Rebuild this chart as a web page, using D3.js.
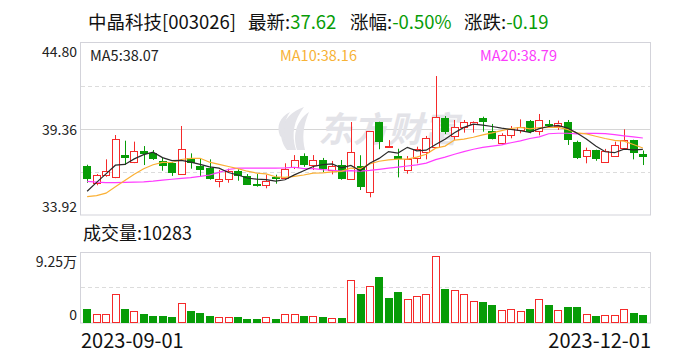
<!DOCTYPE html>
<html>
<head>
<meta charset="utf-8">
<script src="https://cdn.jsdelivr.net/npm/d3@7"></script>
<style>
  body { margin: 0; background: #fff; }
  svg { display: block; font-family: "Noto Sans CJK SC", "Noto Sans", sans-serif; }
</style>
</head>
<body>
<script>
// daily K-line, 2023-09-01 .. 2023-12-01 (60 trading days)
var opens  = [37.02,35.93,36.43,36.30,37.71,37.25,37.97,37.82,37.34,37.19,36.53,37.51,37.02,36.89,36.05,36.22,36.70,36.39,35.86,35.80,
              36.30,36.24,36.94,37.65,37.06,37.40,36.75,37.06,36.18,37.02,35.36,39.80,38.30,37.65,36.77,37.51,37.89,38.20,40.04,38.96,
              39.47,39.72,40.04,39.23,38.45,39.02,39.30,39.87,39.21,39.70,39.55,39.78,38.54,37.65,38.03,37.25,37.63,38.14,38.66,37.80];
var highs  = [37.10,36.51,37.44,38.98,38.62,38.56,38.28,38.03,37.57,37.27,39.55,37.82,37.48,37.44,36.77,36.85,36.81,36.51,36.51,36.47,
              36.47,37.19,37.71,37.82,37.71,37.53,37.34,37.40,39.80,37.70,39.23,39.82,38.66,38.11,37.65,38.24,38.92,42.71,40.18,39.93,
              39.93,39.84,40.14,39.68,39.09,39.55,39.97,39.93,40.31,39.93,39.89,39.93,38.62,38.18,38.05,38.10,38.56,39.34,38.68,38.00];
var lows   = [35.96,35.80,36.34,36.25,37.08,37.20,37.08,37.40,36.72,36.39,36.50,36.85,36.39,36.15,35.67,35.96,36.09,35.82,35.71,35.61,
              35.90,36.20,36.83,36.97,36.77,36.64,36.49,36.15,36.15,35.50,35.04,38.08,38.16,36.30,36.53,37.19,37.44,38.18,39.04,38.66,
              39.13,39.13,39.19,38.70,38.43,38.77,39.09,39.09,38.96,39.47,39.30,38.35,37.46,37.19,37.35,37.23,37.61,38.12,37.44,37.08];
var closes = [36.22,36.43,36.70,38.71,37.54,37.97,37.80,37.44,37.02,36.56,38.08,37.19,36.77,36.18,36.20,36.70,36.39,35.84,35.80,36.05,
              36.24,36.83,37.40,37.08,37.40,36.85,37.00,36.18,37.89,35.67,39.21,38.56,38.30,37.48,37.44,38.10,38.77,40.10,39.13,39.51,
              39.78,39.82,39.76,38.71,38.96,39.38,39.47,39.17,39.91,39.66,39.76,38.62,37.54,38.03,37.44,37.97,38.33,38.66,37.81,37.62];
var volumes = [18200,11300,11300,37800,18200,15600,11700,9100,9100,7800,26000,16000,13000,9100,7400,7400,7800,5200,5200,7400,
               5200,11300,11300,9100,8800,7800,6100,6500,55600,37800,47800,59900,32600,40400,30900,34800,37400,87300,44300,42600,
               37400,28700,27400,23500,16900,17800,15600,18200,30900,23500,16900,20800,20800,11300,9100,10000,10000,17800,13000,10283];

// moving averages as shown on the chart
var ma5  = [35.42,35.98,36.52,37.07,37.12,37.47,37.74,37.89,37.55,37.36,37.38,37.26,37.12,36.96,36.88,36.61,36.45,36.26,36.19,36.16,
            36.06,36.15,36.46,36.72,36.99,37.11,37.15,36.90,37.06,36.72,37.19,37.50,37.93,37.84,38.20,37.98,38.02,38.38,38.71,39.12,
            39.46,39.67,39.60,39.52,39.41,39.33,39.26,39.14,39.38,39.52,39.59,39.42,39.10,38.72,38.28,37.92,37.86,38.09,38.04,38.07];
var ma10 = [35.08,35.15,35.30,35.70,36.10,36.50,36.85,37.10,37.25,37.24,37.43,37.50,37.51,37.26,37.12,36.99,36.85,36.69,36.57,36.52,
            36.34,36.30,36.36,36.45,36.57,36.59,36.65,36.68,36.89,36.85,37.15,37.32,37.41,37.45,37.46,37.58,37.76,38.15,38.28,38.66,
            38.72,38.84,38.99,39.11,39.26,39.39,39.46,39.37,39.45,39.46,39.46,39.34,39.12,39.05,38.90,38.76,38.64,38.59,38.38,38.16];
var ma20 = [36.05,36.00,35.97,35.97,35.98,36.00,36.02,36.06,36.12,36.18,36.24,36.29,36.36,36.45,36.62,36.80,36.88,36.89,36.88,36.88,
            36.88,36.90,36.94,36.85,36.85,36.79,36.75,36.69,36.73,36.69,36.74,36.81,36.89,36.95,37.02,37.09,37.20,37.42,37.58,37.76,
            37.93,38.08,38.20,38.28,38.36,38.49,38.61,38.76,38.86,39.06,39.09,39.09,39.05,39.08,39.08,39.07,39.00,38.93,38.86,38.79];

var priceTicks = [44.80, 39.36, 33.92];
var priceDash = [42.08, 36.64];
var volMax = 92500;
var dateLabels = ["2023-09-01", "2023-12-01"];

var RED = "#f52a2a", GREEN = "#079c07";

var svg = d3.select("body").append("svg")
  .attr("width", 688)
  .attr("height", 360);

var idx = closes.map(function(d, i) { return i; });

var x = d3.scaleBand().domain(idx).range([81.5, 648.5]).padding(0.2);
var y = d3.scaleLinear().domain([33.92, 44.80]).range([215, 43]);
var yv = d3.scaleLinear().domain([0, volMax]).range([323, 252]);
var bw = Math.round(x.bandwidth());
function cx(i) { return Math.round(x(i) + x.bandwidth() / 2) + 0.5; }
function left(i) { return Math.round(x(i)); }

// ---- title
var title = svg.append("g").style("font-size", "18.5px").attr("fill", "#111");
title.append("text").attr("x", 88).attr("y", 29).text("中晶科技[003026]");
var t1 = title.append("text").attr("x", 248).attr("y", 29);
t1.append("tspan").text("最新:");
t1.append("tspan").attr("fill", GREEN).text("37.62");
var t2 = title.append("text").attr("x", 350).attr("y", 29);
t2.append("tspan").text("涨幅:");
t2.append("tspan").attr("fill", GREEN).text("-0.50%");
var t3 = title.append("text").attr("x", 464).attr("y", 29);
t3.append("tspan").text("涨跌:");
t3.append("tspan").attr("fill", GREEN).text("-0.19");

// ---- price panel frame + grid
svg.append("rect").attr("x", 80.5).attr("y", 42.5).attr("width", 570).attr("height", 172.5)
  .attr("fill", "none").attr("stroke", "#d3d3da");
svg.append("line").attr("x1", 81).attr("x2", 650).attr("y1", y(39.36) + 0.5).attr("y2", y(39.36) + 0.5)
  .attr("stroke", "#d6d6d6");
svg.selectAll(".pdash").data(priceDash).enter().append("line")
  .attr("x1", 81).attr("x2", 650)
  .attr("y1", function(d) { return Math.round(y(d)) + 0.5; })
  .attr("y2", function(d) { return Math.round(y(d)) + 0.5; })
  .attr("stroke", "#dcdcdc").attr("stroke-dasharray", "4,3");

svg.selectAll(".ptick").data(priceTicks).enter().append("text")
  .attr("x", 77)
  .attr("y", function(d, i) { return [57, 134.5, 211.5][i]; })
  .attr("text-anchor", "end")
  .style("font-size", "14px").attr("fill", "#222")
  .text(function(d) { return d.toFixed(2); });

// watermark
var wm = svg.append("g").attr("fill", "#e3e3e8");
wm.append("path").attr("d", "M287,150 C276,136 280,116 304,107 C294,120 291,134 296,150 Z");
wm.append("path").attr("d", "M297,150 C292,134 297,120 309,112 C303,126 302,138 305,150 Z");
wm.append("path").attr("d", "M280,136 C276,126 280,117 290,112 C284,121 283,129 285,140 Z");
wm.append("text").attr("x", 318).attr("y", 142)
  .style("font-size", "35px").style("font-weight", "bold").style("font-style", "italic")
  .text("东方财富");

// MA legends
var leg = svg.append("g").style("font-size", "14.5px");
leg.append("text").attr("x", 90).attr("y", 61).attr("fill", "#222").text("MA5:" + ma5[59].toFixed(2));
leg.append("text").attr("x", 280).attr("y", 61).attr("fill", "#f7b236").text("MA10:" + ma10[59].toFixed(2));
leg.append("text").attr("x", 480).attr("y", 61).attr("fill", "#fb3cfb").text("MA20:" + ma20[59].toFixed(2));

// ---- candles
function isUp(i) { return closes[i] >= opens[i]; }

svg.selectAll(".wick").data(idx).enter().append("line")
  .attr("x1", cx).attr("x2", cx)
  .attr("y1", function(i) { return y(highs[i]); })
  .attr("y2", function(i) { return y(lows[i]); })
  .attr("stroke", function(i) { return isUp(i) ? RED : GREEN; });

svg.selectAll(".body").data(idx).enter().append("rect")
  .attr("x", function(i) { return isUp(i) ? left(i) + 0.5 : left(i); })
  .attr("width", function(i) { return isUp(i) ? bw - 1 : bw; })
  .attr("y", function(i) { return Math.round(y(Math.max(opens[i], closes[i]))) + (isUp(i) ? 0.5 : 0); })
  .attr("height", function(i) {
    var h = Math.round(y(Math.min(opens[i], closes[i])) - y(Math.max(opens[i], closes[i])));
    return Math.max(h, isUp(i) ? 1 : 2);
  })
  .attr("fill", function(i) { return isUp(i) ? "#fff" : GREEN; })
  .attr("stroke", function(i) { return isUp(i) ? RED : "none"; });

// MA lines
function maLine(arr, color) {
  svg.append("path")
    .datum(arr)
    .attr("fill", "none")
    .attr("stroke", color)
    .attr("stroke-width", 1.2)
    .attr("d", d3.line()
      .x(function(d, i) { return x(i) + x.bandwidth() / 2; })
      .y(function(d) { return y(d); }));
}
maLine(ma20, "#ff3cff");
maLine(ma10, "#fbb034");
maLine(ma5, "#2a2a2a");

// ---- volume panel
svg.append("text").attr("x", 83).attr("y", 240)
  .style("font-size", "18px").attr("fill", "#111")
  .text("成交量:" + volumes[59]);

svg.append("rect").attr("x", 80.5).attr("y", 252.5).attr("width", 570).attr("height", 70.5)
  .attr("fill", "none").attr("stroke", "#d3d3da");
svg.append("line").attr("x1", 81).attr("x2", 650).attr("y1", 287.5).attr("y2", 287.5)
  .attr("stroke", "#dcdcdc").attr("stroke-dasharray", "4,3");

svg.append("text").attr("x", 77).attr("y", 267).attr("text-anchor", "end")
  .style("font-size", "14px").attr("fill", "#222").text((volMax / 10000).toFixed(2) + "万");
svg.append("text").attr("x", 77).attr("y", 320).attr("text-anchor", "end")
  .style("font-size", "14px").attr("fill", "#222").text("0");

// volume colour: by candle, flat candles by previous close
function volUp(i) {
  if (closes[i] > opens[i]) return true;
  if (closes[i] < opens[i]) return false;
  return i > 0 ? closes[i] >= closes[i - 1] : true;
}

svg.selectAll(".vol").data(idx).enter().append("rect")
  .attr("x", function(i) { return volUp(i) ? left(i) + 0.5 : left(i); })
  .attr("width", function(i) { return volUp(i) ? bw - 1 : bw; })
  .attr("y", function(i) { return Math.round(yv(volumes[i])) + (volUp(i) ? 0.5 : 0); })
  .attr("height", function(i) { return Math.round(yv(0) - yv(volumes[i])) - (volUp(i) ? 1 : 0); })
  .attr("fill", function(i) { return volUp(i) ? "#fff" : GREEN; })
  .attr("stroke", function(i) { return volUp(i) ? RED : "none"; });

// date labels
svg.append("text").attr("x", 81).attr("y", 348)
  .style("font-size", "20px").attr("fill", "#111").text(dateLabels[0]);
svg.append("text").attr("x", 651).attr("y", 348).attr("text-anchor", "end")
  .style("font-size", "20px").attr("fill", "#111").text(dateLabels[1]);
</script>
</body>
</html>
